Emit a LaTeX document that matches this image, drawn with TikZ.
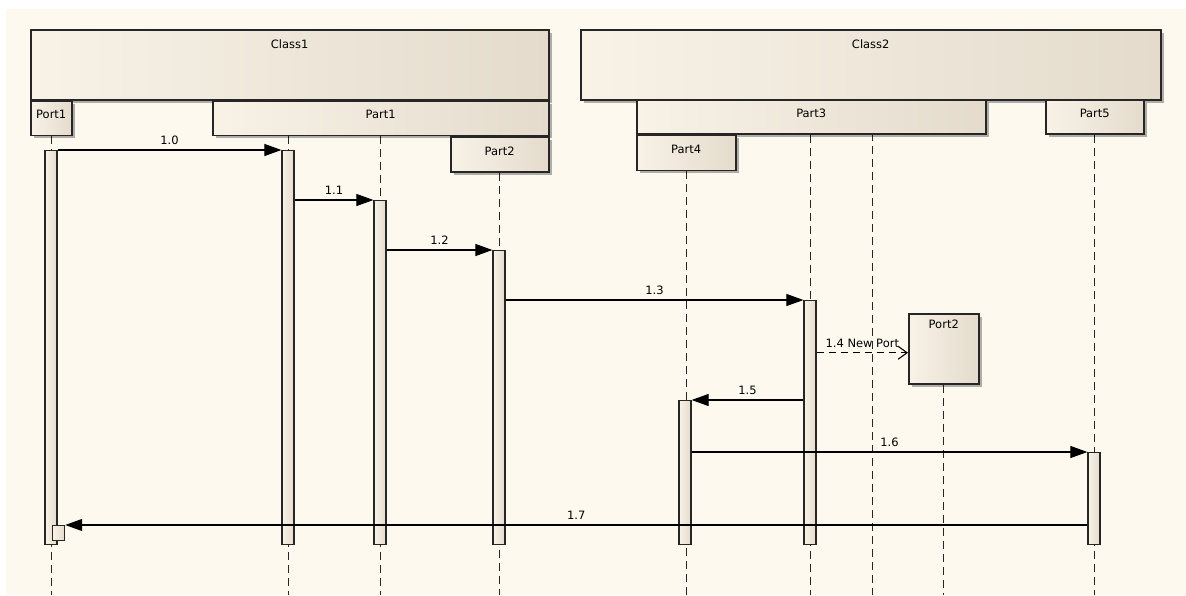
\documentclass[tikz,border=0pt]{standalone}
\usepackage{fontspec}
\setmainfont{DejaVu Sans}
\usepackage{xcolor}
\usetikzlibrary{arrows.meta, positioning, shadows, backgrounds}

\definecolor{canvas}{HTML}{FDF9EE}
\definecolor{boxL}{HTML}{F8F2E7}
\definecolor{boxR}{HTML}{E4DBCC}
\definecolor{edge}{HTML}{262626}

\begin{document}
\begin{tikzpicture}[
    x=1pt, y=-1pt,
    font=\fontsize{11.5}{13}\selectfont,
    head/.style={rectangle, draw=edge, line width=1.5pt, left color=boxL, right color=boxR, anchor=north west, inner sep=0pt, text depth=7pt, drop shadow={shadow xshift=3pt, shadow yshift=-3pt, fill=black, opacity=0.3}},
    title/.style={inner sep=0pt},
    act/.style={rectangle, draw=edge, line width=1.2pt, left color=boxL, right color=boxR, minimum width=12pt, inner sep=0pt, anchor=north},
    life/.style={draw=edge, line width=1pt, dash pattern=on 8pt off 5pt},
    msg/.style={draw=black, line width=1.1pt, -{Triangle[length=17pt, width=12pt]}},
    create/.style={draw=black, line width=1.1pt, dash pattern=on 7pt off 5pt, -{Straight Barb[length=9pt, width=13pt]}},
    lbl/.style={midway, above=5pt, inner sep=0pt}
]
    \useasboundingbox (0,0) rectangle (1186,595);

    % heads
    \node [head, minimum width=518pt, minimum height=70pt] (class1) at (30,29) {};
    \node [title, below=11pt of class1.north] (class1txt) {Class1};
    \node [head, minimum width=41pt, minimum height=34pt] (port1) at (class1.south west) {Port1};
    \node [head, anchor=north east, minimum width=336pt, minimum height=34pt] (part1) at (class1.south east) {Part1};
    \node [head, anchor=north east, minimum width=98pt, minimum height=35pt] (part2) at (part1.south east) {Part2};

    \node [head, minimum width=580pt, minimum height=70pt] (class2) at (580,29) {};
    \node [title, below=11pt of class2.north] (class2txt) {Class2};
    \node [head, minimum width=349pt, minimum height=34pt] (part3) at (636,99) {Part3};
    \node [head, minimum width=99pt, minimum height=35pt] (part4) at (part3.south west) {Part4};
    \node [head, minimum width=98pt, minimum height=34pt] (part5) at (1045,99) {Part5};
    \coordinate (class2life) at (872,133);

    % created port
    \node [head, minimum width=70pt, minimum height=70pt] (port2) at (908,313) {};
    \node [title, below=7pt of port2.north] (port2txt) {Port2};
    \coordinate (port2in) at ([yshift=-4pt]port2.west);

    % activations
    \node [act, minimum height=394pt] (actport1) at (51,150) {};
    \node [act, minimum height=394pt] (actclass1) at (288,150) {};
    \node [act, minimum height=344pt] (actpart1) at (380,200) {};
    \node [act, minimum height=294pt] (actpart2) at (499,250) {};
    \node [act, minimum height=244pt] (actpart3) at (810,300) {};
    \node [act, minimum height=144pt] (actpart4) at (685,400) {};
    \node [act, minimum height=92pt] (actpart5) at (1094,452) {};
    \node [act, anchor=north west, minimum height=15pt] (actback) at (52,525) {};

    \coordinate (floor) at (0,595);

    \begin{scope}[on background layer]
        \fill [white] (0,0) rectangle (1186,595);
        \fill [canvas] (6,9) rectangle (1186,595);
        % lifelines
        \draw [life] (port1.south) -- (port1.south |- floor);
        \draw [life] (actclass1.north |- part1.south) -- (actclass1.north |- floor);
        \draw [life] (actpart1.north |- part1.south) -- (actpart1.north |- floor);
        \draw [life] (part2.south) -- (part2.south |- floor);
        \draw [life] (part4.south) -- (part4.south |- floor);
        \draw [life] (actpart3.north |- part3.south) -- (actpart3.north |- floor);
        \draw [life] (class2life) -- (class2life |- floor);
        \draw [life] (port2.south) -- (port2.south |- floor);
        \draw [life] (part5.south) -- (part5.south |- floor);
    \end{scope}

    % messages
    \draw [msg] (actport1.north east) -- node[lbl] {1.0} (actclass1.north west);
    \draw [msg] (actclass1.east |- actpart1.north) -- node[lbl] {1.1} (actpart1.north west);
    \draw [msg] (actpart1.east |- actpart2.north) -- node[lbl] {1.2} (actpart2.north west);
    \draw [msg] (actpart2.east |- actpart3.north) -- node[lbl] {1.3} (actpart3.north west);
    \draw [create] (actpart3.east |- port2in) -- node[lbl] {1.4 New Port} (port2in);
    \draw [msg] (actpart3.west |- actpart4.north) -- node[lbl] {1.5} (actpart4.north east);
    \draw [msg] (actpart4.east |- actpart5.north) -- node[lbl] {1.6} (actpart5.north west);
    \draw [msg] (actpart5.west |- actback.north) -- node[lbl] {1.7} (actback.north east);
\end{tikzpicture}
\end{document}
